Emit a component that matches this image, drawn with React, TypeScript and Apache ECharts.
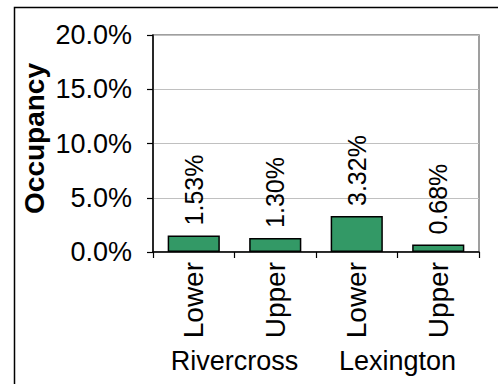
import React, { useEffect, useRef } from "react";
import * as echarts from "echarts";

const categories = ["Lower", "Upper", "Lower", "Upper"];
const groupLabels = ["Rivercross", "Lexington"];
const occupancy = [1.53, 1.3, 3.32, 0.68];
const yTicks = { min: 0, max: 20, interval: 5 };
const yTitle = "Occupancy";

const FONT = "'Liberation Sans', Arial, sans-serif";
const FS = 27;

export default function App() {
  const ref = useRef<HTMLDivElement>(null);
  useEffect(() => {
    const chart = echarts.init(ref.current!, null, { renderer: "svg" });
    chart.setOption({
      animation: false,
      backgroundColor: "#ffffff",
      textStyle: { fontFamily: FONT },
      graphic: [
        {
          type: "rect",
          shape: { x: 14.5, y: 7.5, width: 600, height: 600 },
          style: { fill: "none", stroke: "#000", lineWidth: 1.5 },
          silent: true,
        },
      ],
      grid: {
        left: 153,
        top: 35,
        right: 19,
        bottom: 132,
        show: true,
        borderColor: "#808080",
        borderWidth: 1.5,
        backgroundColor: "transparent",
      },
      xAxis: [
        {
          type: "category",
          data: categories,
          position: "bottom",
          axisLine: { show: true, lineStyle: { color: "#000", width: 1.5 } },
          axisTick: { show: true, length: 6, lineStyle: { color: "#000", width: 1.2 } },
          axisLabel: {
            rotate: 90,
            interval: 0,
            margin: 10,
            color: "#000",
            fontSize: 28,
            fontFamily: FONT,
          },
        },
        {
          type: "category",
          data: groupLabels,
          position: "bottom",
          offset: 95,
          axisLine: { show: false },
          axisTick: { show: false },
          axisLabel: {
            interval: 0,
            hideOverlap: false,
            color: "#000",
            fontSize: FS,
            fontFamily: FONT,
            margin: 0,
          },
        },
      ],
      yAxis: {
        type: "value",
        min: yTicks.min,
        max: yTicks.max,
        interval: yTicks.interval,
        name: yTitle,
        nameLocation: "middle",
        nameGap: 105,
        nameMoveOverlap: false,
        nameTextStyle: {
          fontWeight: "bold",
          fontSize: 28,
          color: "#000",
          fontFamily: FONT,
          padding: [0, 0, 0, 10],
        },
        axisLine: { show: true, lineStyle: { color: "#000", width: 1.5 } },
        axisTick: { show: true, length: 6, lineStyle: { color: "#000", width: 1.2 } },
        axisLabel: {
          margin: 21,
          color: "#000",
          fontSize: FS,
          fontFamily: FONT,
          formatter: (v: number) => v.toFixed(1) + "%",
        },
        splitLine: { show: true, lineStyle: { color: "#c0c0c0", width: 1 } },
      },
      series: [
        {
          type: "bar",
          xAxisIndex: 0,
          data: occupancy,
          barWidth: "64%",
          itemStyle: { color: "#339966", borderColor: "#000", borderWidth: 1.5 },
          label: {
            show: true,
            position: "top",
            distance: 10,
            rotate: 90,
            align: "left",
            verticalAlign: "middle",
            color: "#000",
            fontSize: 25,
            fontFamily: FONT,
            formatter: (p: any) => p.value.toFixed(2) + "%",
          },
        },
      ],
    });
    return () => chart.dispose();
  }, []);
  return (
    <div
      ref={ref}
      style={{ position: "fixed", left: 0, top: 0, width: 498, height: 384 }}
    />
  );
}
